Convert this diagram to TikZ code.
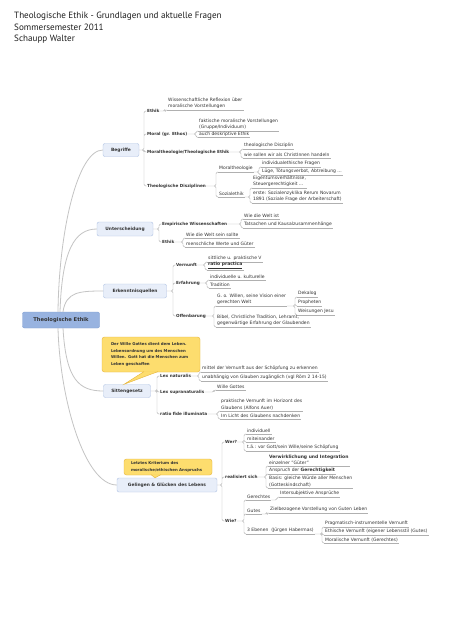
\documentclass[tikz,border=0pt]{standalone}
\usepackage{fontspec}
\setmainfont{DejaVu Sans}
\newfontfamily\titlefont{PT Sans}
\usetikzlibrary{calc}

\newcommand\leaffont{\fontsize{4.5}{6.3}\selectfont}
\newcommand\labelfont{\fontsize{4.2}{5}\selectfont\bfseries}
\newcommand\boxfont{\fontsize{4.4}{5}\selectfont\bfseries}

\tikzset{
  titletext/.style={anchor=base west, inner sep=0pt, text=titlegray, font=\titlefont\fontsize{9.1}{11}\selectfont},
  rootbox/.style={draw=rootline, fill=rootfill, rounded corners=2pt, minimum width=77pt, minimum height=16pt, text=textgray, font=\fontsize{5.2}{6}\selectfont\bfseries},
  mainbox/.style={draw=mainline, fill=mainfill, rounded corners=2pt, minimum height=14pt, text=textgray, font=\boxfont},
  notebox/.style={draw=noteline, fill=notefill, rounded corners=2.5pt, align=left, inner sep=0pt, text=textgray, font=\fontsize{3.9}{6.4}\selectfont\bfseries},
  topiclabel/.style={anchor=west, inner sep=0pt, text=textgray, font=\labelfont},
  leaf/.style={anchor=south west, inner sep=1pt, align=left, text=textgray, font=\leaffont,
    append after command={(\tikzlastnode.south west) edge[branch] (\tikzlastnode.south east)}},
  trunk/.style={draw=trunkgray, line width=0.8pt},
  branch/.style={draw=branchgray, line width=0.4pt, rounded corners=1.5pt}
}

\begin{document}
\begin{tikzpicture}[x=1pt, y=-1pt]
\definecolor{titlegray}{HTML}{1E1E1E}
\definecolor{textgray}{HTML}{333333}
\definecolor{rootfill}{HTML}{98B3E0}
\definecolor{rootline}{HTML}{7E9CD0}
\definecolor{mainfill}{HTML}{E8EEF9}
\definecolor{mainline}{HTML}{AFC2E3}
\definecolor{notefill}{HTML}{FDDD6E}
\definecolor{noteline}{HTML}{E6B43C}
\definecolor{trunkgray}{HTML}{C4C4C4}
\definecolor{branchgray}{HTML}{B0B0B0}
\fill[white] (0,0) rectangle (452,640);
\useasboundingbox (0,0) rectangle (452,640);

\node[titletext] (titel) at (14,18) {Theologische Ethik - Grundlagen und aktuelle Fragen};
\node[titletext] (semester) at (14,30) {Sommersemester 2011};
\node[titletext] (dozent) at (14,41) {Schaupp Walter};

\node[rootbox] (root) at (61,320) {Theologische Ethik};
\node[mainbox, minimum width=36pt, minimum height=13pt] (begr) at (121,150) {Begriffe};
\node[mainbox, minimum width=56pt] (unt) at (125,229) {Unterscheidung};
\node[mainbox, minimum width=63pt] (erk) at (135,291) {Erkenntnisquellen};
\node[mainbox, minimum width=47pt, minimum height=13pt] (sitt) at (127,391) {Sittengesetz};
\node[mainbox, minimum width=100pt] (gel) at (167,485) {Gelingen \& Glücken des Lebens};

\draw[trunk] ([xshift=-3pt]root.north) .. controls +(1,-82) and +(-25,0) .. (begr.west);
\draw[trunk] ([xshift=-1pt]root.north) .. controls +(2,-62) and +(-22,0) .. (unt.west);
\draw[trunk] ([xshift=2pt]root.north) .. controls +(3,-20) and +(-24,0) .. (erk.west);
\draw[trunk] ([xshift=2pt]root.south) .. controls +(3,52) and +(-24,0) .. (sitt.west);
\draw[trunk] ([xshift=-3pt]root.south) .. controls +(2,72) and +(-32,0) .. (gel.west);

\node[notebox, minimum width=98pt, minimum height=35pt, text width=80pt] (wille) at (151,354.5)
  {Der Wille Gottes dient dem Leben.\\Lebensordnung um des Menschen\\Willen. Gott hat die Menschen zum\\Leben geschaffen};
\filldraw[draw=noteline, fill=notefill] ([xshift=-7pt, yshift=0.6pt]wille.south) -- ([xshift=-3pt]sitt.north) -- ([xshift=7pt, yshift=0.6pt]wille.south);
\node[notebox, minimum width=88pt, minimum height=16pt, text width=74pt] (krit) at (168,467)
  {Letztes Kriterium des\\moralische/ethischen Anspruchs};
\filldraw[draw=noteline, fill=notefill] ([xshift=-17pt, yshift=0.6pt]krit.south) -- ([xshift=-12pt]gel.north) -- ([xshift=-7pt, yshift=0.6pt]krit.south);

% Begriffe
\node[topiclabel] (ethik) at (147,111) {Ethik};
\node[topiclabel] (moral) at (147,134) {Moral (gr. Ethos)};
\node[topiclabel] (mtheo) at (147,152) {Moraltheologie/Theologische Ethik};
\node[topiclabel] (disz) at (147,186) {Theologische Disziplinen};
\draw[branch] (begr.east) -| ([xshift=-3pt]ethik.west) -- (ethik.west)
  (begr.east) -| ([xshift=-3pt]moral.west) -- (moral.west)
  (begr.east) -| ([xshift=-3pt]mtheo.west) -- (mtheo.west)
  (begr.east) -| ([xshift=-3pt]disz.west) -- (disz.west);

\node[leaf] (wiss) at (167,110) {Wissenschaftliche Reflexion über\\moralische Vorstellungen};
\node[leaf] (fakt) at (198,131) {faktische moralische Vorstellungen\\(Gruppe/Individuum)};
\node[leaf] (deskr) at (198,137.5) {auch deskriptive Ethik};
\node[leaf] (thdisz) at (243,149) {theologische Disziplin};
\node[leaf] (christ) at (243,158) {wie sollen wir als ChristInnen handeln};
\node[leaf] (mt) at (218,172) {Moraltheologie};
\node[leaf] (soz) at (218,197) {Sozialethik};
\node[leaf] (indiv) at (261,167) {individualethische Fragen};
\node[leaf] (luege) at (261,175) {Lüge, Tötungsverbot, Abtreibung ...};
\node[leaf] (eigen) at (252,188) {Eigentumsverhältnisse,\\Steuergerechtigkeit ...};
\node[leaf] (rerum) at (252,203) {erste: Sozialenzyklika Rerum Novarum\\1891 (Soziale Frage der Arbeiterschaft)};
\draw[branch] (ethik.east) -| ([xshift=-2pt]wiss.south west) -- (wiss.south west);
\draw[branch] (moral.east) -| ([xshift=-2pt]fakt.south west) -- (fakt.south west)
  (moral.east) -| ([xshift=-2pt]deskr.south west) -- (deskr.south west);
\draw[branch] (mtheo.east) -| ([xshift=-2pt]thdisz.south west) -- (thdisz.south west)
  (mtheo.east) -| ([xshift=-2pt]christ.south west) -- (christ.south west);
\draw[branch] (disz.east) -| ([xshift=-2pt]mt.south west) -- (mt.south west)
  (disz.east) -| ([xshift=-2pt]soz.south west) -- (soz.south west);
\draw[branch] (mt.south east) -| ([xshift=-2pt]indiv.south west) -- (indiv.south west)
  (mt.south east) -| ([xshift=-2pt]luege.south west) -- (luege.south west);
\draw[branch] (soz.south east) -| ([xshift=-2pt]eigen.south west) -- (eigen.south west)
  (soz.south east) -| ([xshift=-2pt]rerum.south west) -- (rerum.south west);

% Unterscheidung
\node[topiclabel] (empir) at (162,224) {Empirische Wissenschaften};
\node[topiclabel] (ethik2) at (162,242) {Ethik};
\draw[branch] (unt.east) -| ([xshift=-3pt]empir.west) -- (empir.west)
  (unt.east) -| ([xshift=-3pt]ethik2.west) -- (ethik2.west);
\node[leaf] (istwelt) at (243,219) {Wie die Welt ist};
\node[leaf] (tats) at (243,228) {Tatsachen und Kausalzusammenhänge};
\node[leaf] (sollwelt) at (185,238) {Wie die Welt sein sollte};
\node[leaf] (werte) at (185,247) {menschliche Werte und Güter};
\draw[branch] (empir.east) -| ([xshift=-2pt]istwelt.south west) -- (istwelt.south west)
  (empir.east) -| ([xshift=-2pt]tats.south west) -- (tats.south west);
\draw[branch] (ethik2.east) -| ([xshift=-2pt]sollwelt.south west) -- (sollwelt.south west)
  (ethik2.east) -| ([xshift=-2pt]werte.south west) -- (werte.south west);

% Erkenntnisquellen
\node[topiclabel] (vern) at (176,265) {Vernunft};
\node[topiclabel] (erf) at (176,283) {Erfahrung};
\node[topiclabel] (offb) at (176,316) {Offenbarung};
\draw[branch] (erk.east) -| ([xshift=-3pt]vern.west) -- (vern.west)
  (erk.east) -| ([xshift=-3pt]erf.west) -- (erf.west)
  (erk.east) -| ([xshift=-3pt]offb.west) -- (offb.west);
\node[leaf] (sittl) at (207,262) {sittliche u. praktische V};
\node[leaf] (practica) at (207,270) {\textbf{\underline{ratio practica}}};
\node[leaf] (kultur) at (209,280) {individuelle u. kulturelle};
\node[leaf] (trad) at (209,288) {Tradition};
\node[leaf] (vision) at (216,306) {G. o. Willen, seine Vision einer\\gerechten Welt};
\node[leaf] (bibel) at (216,327) {Bibel, Christliche Tradition, Lehramt,\\gegenwärtige Erfahrung der Glaubenden};
\node[leaf] (dekalog) at (297,297) {Dekalog};
\node[leaf] (proph) at (297,306) {Propheten};
\node[leaf] (jesu) at (297,315) {Weisungen Jesu};
\draw[branch] (vern.east) -| ([xshift=-2pt]sittl.south west) -- (sittl.south west)
  (vern.east) -| ([xshift=-2pt]practica.south west) -- (practica.south west);
\draw[branch] (erf.east) -| ([xshift=-2pt]kultur.south west) -- (kultur.south west)
  (erf.east) -| ([xshift=-2pt]trad.south west) -- (trad.south west);
\draw[branch] (offb.east) -| ([xshift=-2pt]vision.south west) -- (vision.south west)
  (offb.east) -| ([xshift=-2pt]bibel.south west) -- (bibel.south west);
\draw[branch] (vision.south east) -| ([xshift=-2pt]dekalog.south west) -- (dekalog.south west)
  (vision.south east) -| ([xshift=-2pt]proph.south west) -- (proph.south west)
  (vision.south east) -| ([xshift=-2pt]jesu.south west) -- (jesu.south west);

% Sittengesetz
\node[topiclabel] (lexnat) at (160,376) {Lex naturalis};
\node[topiclabel] (lexsup) at (160,392) {Lex supranaturalis};
\node[topiclabel] (fide) at (160,414) {ratio fide illuminata};
\draw[branch] (sitt.east) -| ([xshift=-3pt]lexnat.west) -- (lexnat.west)
  (sitt.east) -| ([xshift=-3pt]lexsup.west) -- (lexsup.west)
  (sitt.east) -| ([xshift=-3pt]fide.west) -- (fide.west);
\node[leaf] (schoepf) at (201,372) {mittel der Vernunft aus der Schöpfung zu erkennen};
\node[leaf] (unabh) at (201,381) {unabhängig von Glauben zugänglich (vgl Röm 2 14-15)};
\node[leaf] (willeg) at (216,390) {Wille Gottes};
\node[leaf] (auer) at (220,411) {praktische Vernunft im Horizont des\\Glaubens (Alfons Auer)};
\node[leaf] (licht) at (220,419) {Im Licht des Glaubens nachdenken};
\draw[branch] (lexnat.east) -| ([xshift=-2pt]schoepf.south west) -- (schoepf.south west)
  (lexnat.east) -| ([xshift=-2pt]unabh.south west) -- (unabh.south west);
\draw[branch] (lexsup.east) -| ([xshift=-2pt]willeg.south west) -- (willeg.south west);
\draw[branch] (fide.east) -| ([xshift=-2pt]auer.south west) -- (auer.south west)
  (fide.east) -| ([xshift=-2pt]licht.south west) -- (licht.south west);

% Gelingen & Gluecken des Lebens
\node[topiclabel] (wer) at (225,442) {Wer?};
\node[topiclabel] (real) at (225,477) {realisiert sich};
\node[topiclabel] (wie) at (225,521) {Wie?};
\draw[branch] (gel.east) -| ([xshift=-3pt]wer.west) -- (wer.west)
  (gel.east) -| ([xshift=-3pt]real.west) -- (real.west)
  (gel.east) -| ([xshift=-3pt]wie.west) -- (wie.west);
\node[leaf] (individuell) at (246,434) {individuell};
\node[leaf] (mitein) at (246,442) {miteinander};
\node[leaf] (vorgott) at (246,451) {t.ä.: vor Gott/sein Wille/seine Schöpfung};
\node[leaf] (verw) at (268,466) {\textbf{Verwirklichung und Integration}\\einzelner "Güter"};
\node[leaf] (anspr) at (268,474) {Anspruch der \textbf{Gerechtigkeit}};
\node[leaf] (basis) at (268,488) {Basis: gleiche Würde aller Menschen\\(Gotteskindschaft)};
\node[leaf] (gerecht) at (246,500) {Gerechtes};
\node[leaf] (gutes) at (246,514) {Gutes};
\node[leaf] (ebenen) at (246,534) {3 Ebenen\ \ (Jürgen Habermas)};
\node[leaf] (intersub) at (279,497) {Intersubjektive Ansprüche};
\node[leaf] (ziel) at (269,513) {Zielbezogene Vorstellung von Guten Leben};
\node[leaf] (pragm) at (324,527) {Pragmatisch-instrumentelle Vernunft};
\node[leaf] (ethv) at (324,535) {Ethische Vernunft (eigener Lebensstil (Gutes)};
\node[leaf] (moralv) at (324,543) {Moralische Vernunft (Gerechtes)};
\draw[branch] (wer.east) -| ([xshift=-2pt]individuell.south west) -- (individuell.south west)
  (wer.east) -| ([xshift=-2pt]mitein.south west) -- (mitein.south west)
  (wer.east) -| ([xshift=-2pt]vorgott.south west) -- (vorgott.south west);
\draw[branch] (real.east) -| ([xshift=-2pt]verw.south west) -- (verw.south west)
  (real.east) -| ([xshift=-2pt]anspr.south west) -- (anspr.south west)
  (real.east) -| ([xshift=-2pt]basis.south west) -- (basis.south west);
\draw[branch] (wie.east) -| ([xshift=-2pt]gerecht.south west) -- (gerecht.south west)
  (wie.east) -| ([xshift=-2pt]gutes.south west) -- (gutes.south west)
  (wie.east) -| ([xshift=-2pt]ebenen.south west) -- (ebenen.south west);
\draw[branch] (gerecht.south east) -| ([xshift=-2pt]intersub.south west) -- (intersub.south west);
\draw[branch] (gutes.south east) -| ([xshift=-2pt]ziel.south west) -- (ziel.south west);
\draw[branch] (ebenen.south east) -| ([xshift=-2pt]pragm.south west) -- (pragm.south west)
  (ebenen.south east) -| ([xshift=-2pt]ethv.south west) -- (ethv.south west)
  (ebenen.south east) -| ([xshift=-2pt]moralv.south west) -- (moralv.south west);
\end{tikzpicture}
\end{document}
